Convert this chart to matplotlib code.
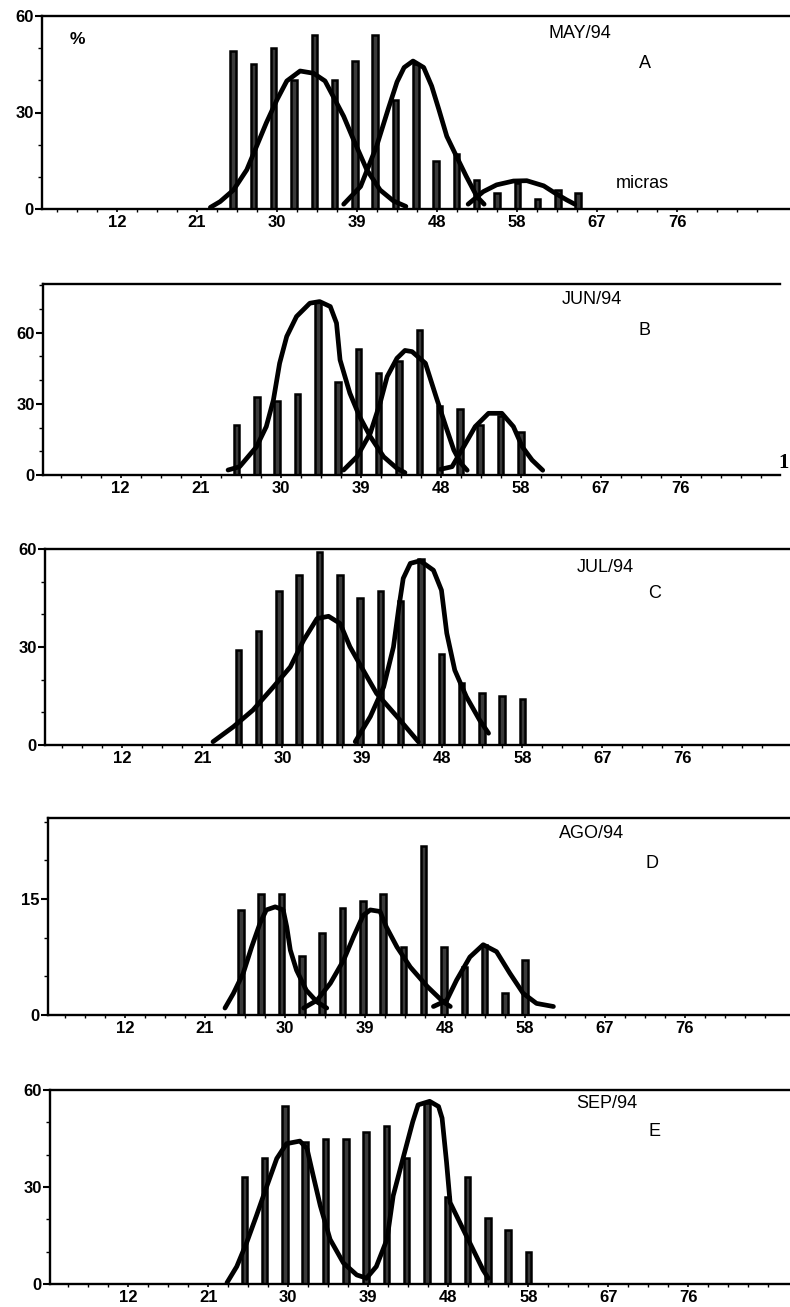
import matplotlib
matplotlib.use("Agg")
import matplotlib.pyplot as plt
import numpy as np

plt.rcParams['font.family'] = ['Liberation Sans', 'DejaVu Sans']

# ---------------- data ----------------
# class midpoints (micras)
class_mid = [25.05, 27.33, 29.62, 31.90, 34.19, 36.47, 38.75, 41.04, 43.32,
             45.61, 47.89, 50.17, 52.46, 54.74, 57.03, 59.31, 61.59, 63.88]

x_ticks = [12, 21, 30, 39, 48, 57, 66, 75]
x_tick_labels = ['12', '21', '30', '39', '48', '58', '67', '76']

months = ['MAY/94', 'JUN/94', 'JUL/94', 'AGO/94', 'SEP/94']
letters = ['A', 'B', 'C', 'D', 'E']

freq_a = [49, 45, 50, 40, 54, 40, 46, 54, 34, 45, 15, 17, 9, 5, 8, 3, 6, 5]
freq_b = [21, 33, 31, 34, 73, 39, 53, 43, 48, 61, 29, 28, 21, 25, 18]
freq_c = [29, 35, 47, 52, 59, 52, 45, 47, 44, 57, 28, 19, 16, 15, 14]
freq_d = [13.6, 15.6, 15.6, 7.7, 10.6, 13.8, 14.7, 15.7, 8.8, 21.9, 8.8, 6.2, 9.0, 2.9, 7.1]
freq_e = [33, 39, 55, 44, 45, 45, 47, 49, 39, 56, 27, 33, 20.5, 16.7, 10]

# fitted component curves
a1_x = [22.5, 23.6, 25.1, 26.6, 27.7, 28.8, 30.0, 31.1, 32.6, 34.1, 35.4, 36.3, 37.5, 38.6, 40.1, 41.6, 43.1, 44.5]
a1_y = [0.5, 2.3, 5.9, 12.2, 19.5, 26.8, 34.0, 39.8, 42.9, 42.2, 39.8, 35.1, 28.8, 21.6, 12.2, 5.9, 2.5, 0.8]
a2_x = [37.5, 39.4, 41.2, 42.5, 43.5, 44.3, 45.3, 46.5, 47.4, 48.2, 49.1, 50.2, 51.3, 52.5, 53.3]
a2_y = [1.5, 7.0, 19.5, 31.0, 39.5, 44.0, 46.0, 44.0, 38.2, 31.0, 22.6, 16.3, 10.1, 3.8, 1.5]
a3_x = [51.5, 53.2, 54.7, 56.6, 58.1, 60.0, 61.3, 62.6, 63.5]
a3_y = [1.5, 5.4, 7.5, 8.7, 8.8, 7.2, 4.9, 2.8, 1.5]

b1_x = [24.1, 25.4, 27.3, 28.4, 29.2, 29.9, 30.7, 31.8, 33.3, 34.4, 35.6, 36.3, 36.7, 37.8, 38.9, 40.1, 41.6, 43.1, 44.0]
b1_y = [2.1, 3.5, 11.9, 20.4, 31.6, 47.1, 58.4, 66.8, 72.4, 73.1, 71.0, 64.0, 48.5, 34.5, 24.6, 16.2, 7.7, 2.8, 1.0]
b2_x = [37.1, 38.6, 40.1, 41.2, 42.0, 43.1, 44.0, 44.8, 46.3, 47.5, 48.6, 49.5, 50.3, 51.0]
b2_y = [2.1, 7.7, 17.6, 30.3, 41.5, 49.2, 52.5, 52.0, 47.1, 33.0, 20.4, 10.5, 4.9, 2.0]
b3_x = [48.0, 49.3, 50.6, 51.9, 53.4, 54.9, 56.2, 57.2, 58.3, 59.5]
b3_y = [2.4, 3.5, 11.9, 20.4, 26.0, 26.0, 20.4, 11.9, 6.3, 2.0]

c1_x = [22.2, 24.5, 26.7, 29.0, 30.9, 32.4, 33.9, 35.2, 36.5, 37.6, 39.1, 40.6, 42.9, 45.3]
c1_y = [1.0, 5.6, 10.7, 17.8, 23.9, 32.1, 38.7, 39.4, 37.2, 30.1, 22.9, 15.8, 8.7, 1.0]
c2_x = [38.2, 39.9, 41.4, 42.5, 43.1, 43.6, 44.4, 45.5, 47.0, 47.9, 48.5, 49.4, 50.7, 52.2, 53.2]
c2_y = [1.0, 8.7, 17.8, 30.0, 42.0, 51.0, 55.6, 56.4, 53.5, 47.4, 34.2, 22.9, 14.8, 7.6, 3.6]

d1_x = [23.25, 24.2, 25.3, 26.25, 27.2, 27.9, 28.9, 29.8, 30.2, 30.6, 31.3, 32.4, 33.6, 34.7]
d1_y = [0.9, 2.8, 5.4, 8.8, 11.9, 13.6, 14.0, 13.6, 11.4, 8.4, 5.8, 3.2, 1.7, 0.9]
d2_x = [32.1, 33.6, 35.1, 36.6, 37.7, 38.8, 39.6, 40.7, 41.4, 42.6, 44.1, 46.0, 47.8, 48.6]
d2_y = [0.9, 1.9, 4.1, 7.1, 10.1, 12.9, 13.6, 13.4, 11.4, 8.8, 6.2, 3.7, 1.7, 1.1]
d3_x = [46.7, 48.2, 49.3, 50.8, 52.3, 53.8, 55.3, 56.8, 58.3, 60.2]
d3_y = [1.1, 1.9, 4.5, 7.5, 9.1, 8.2, 5.4, 2.8, 1.5, 1.1]

e1_x = [23.1, 24.2, 25.3, 26.4, 27.6, 28.7, 29.8, 31.3, 32.1, 32.8, 33.6, 34.7, 36.2, 37.7, 38.8]
e1_y = [0.4, 5.4, 12.7, 21.0, 30.4, 38.8, 43.4, 44.2, 41.9, 33.5, 24.2, 13.8, 6.5, 2.8, 1.8]
e2_x = [38.8, 39.9, 41.1, 41.8, 42.9, 44.0, 44.6, 45.9, 46.9, 47.3, 47.8, 48.2, 49.3, 50.6, 51.9, 52.5]
e2_y = [1.8, 5.4, 13.8, 27.3, 38.8, 50.2, 55.4, 56.5, 54.9, 51.3, 37.7, 25.2, 19.0, 11.7, 4.4, 1.8]

# ---------------- layout (pixel based) ----------------
W, H = 790, 1307
PX_UNIT = 0.1125   # micras per pixel along x

panels = [
    dict(box=(42, 16, 209, 790), x0=3.56, ymax=60, major=[0, 30, 60], minor=10,
         freq=freq_a, curves=[(a1_x, a1_y), (a2_x, a2_y), (a3_x, a3_y)]),
    dict(box=(43, 284, 475, 780), x0=3.28, ymax=80.5, major=[0, 30, 60], minor=10,
         freq=freq_b, curves=[(b1_x, b1_y), (b2_x, b2_y), (b3_x, b3_y)]),
    dict(box=(45, 549, 745, 790), x0=3.30, ymax=60, major=[0, 30, 60], minor=10,
         freq=freq_c, curves=[(c1_x, c1_y), (c2_x, c2_y)]),
    dict(box=(48, 818, 1015, 790), x0=3.34, ymax=25.5, major=[0, 15], minor=5,
         freq=freq_d, curves=[(d1_x, d1_y), (d2_x, d2_y), (d3_x, d3_y)]),
    dict(box=(50, 1090, 1284, 790), x0=3.19, ymax=60, major=[0, 30, 60], minor=10,
         freq=freq_e, curves=[(e1_x, e1_y), (e2_x, e2_y)]),
]

title_pos = [((580, 33), (645, 63)), ((592, 300), (645, 330)), ((605, 567), (655, 594)),
             ((592, 834), (652, 864)), ((607, 1104), (654, 1132))]

fig = plt.figure(figsize=(W / 100, H / 100), dpi=100)

for i, p in enumerate(panels):
    l, t, b, r = p['box']
    ax = fig.add_axes([l / W, 1 - b / H, (r - l) / W, (b - t) / H])
    x0 = p['x0']
    ax.set_xlim(x0, x0 + (r - l) * PX_UNIT)
    ax.set_ylim(0, p['ymax'])
    n = len(p['freq'])
    ax.bar(class_mid[:n], p['freq'], width=0.62, color='#3a3a3a',
           edgecolor='black', linewidth=1.8, zorder=2)
    for cx, cy in p['curves']:
        ax.plot(cx, cy, color='black', lw=3.4, solid_joinstyle='round',
                solid_capstyle='round', zorder=3)
    ax.spines['right'].set_visible(False)
    for s in ['left', 'bottom', 'top']:
        ax.spines[s].set_linewidth(1.7)
    ax.set_yticks(p['major'])
    ax.set_yticklabels([str(v) for v in p['major']], fontsize=12,
                       fontweight='bold')
    ax.set_yticks(np.arange(0, p['ymax'] + 0.01, p['minor']), minor=True)
    ax.tick_params(axis='y', which='major', length=5, width=1.5, pad=1)
    ax.tick_params(axis='y', which='minor', length=3, width=1.0)
    ax.set_xticks(x_ticks)
    ax.set_xticklabels(x_tick_labels, fontsize=12, fontweight='bold')
    ax.set_xticks(np.arange(5.25, 86, 2.25), minor=True)
    ax.tick_params(axis='x', which='major', length=2.5, width=1.2, pad=1.5)
    ax.tick_params(axis='x', which='minor', length=2.0, width=1.0)

    (mx, my), (lx, ly) = title_pos[i]
    fig.text(mx / W, 1 - my / H, months[i], ha='center', va='center', fontsize=13)
    fig.text(lx / W, 1 - ly / H, letters[i], ha='center', va='center', fontsize=13)

fig.text(77 / W, 1 - 40 / H, '%', ha='center', va='center', fontsize=12.5,
         fontweight='bold')
fig.text(642 / W, 1 - 183 / H, 'micras', ha='center', va='center', fontsize=13)
fig.text(784 / W, 1 - 463 / H, '1', ha='center', va='center', fontsize=15,
         fontweight='bold', family=['Liberation Serif', 'DejaVu Serif'])

fig.savefig('out.png', dpi=100)
